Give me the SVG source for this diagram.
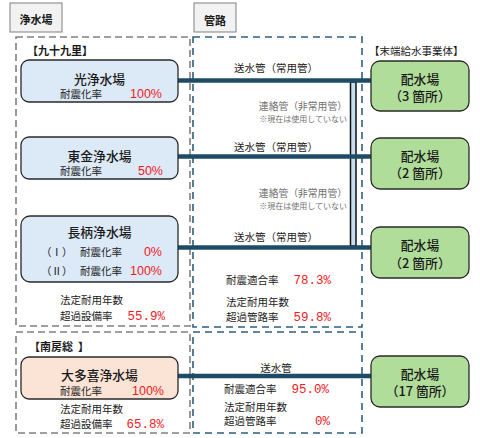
<svg xmlns="http://www.w3.org/2000/svg" width="480" height="438" viewBox="0 0 480 438">
<style>
.t{font-family:"Noto Sans CJK JP","Noto Sans",sans-serif;fill:#1a1a1a}
.ttl{font-size:12.8px;font-weight:500}
.s{font-size:10.5px}
.hd{font-size:11px;font-weight:bold}
.lbl{font-size:10.5px}
.gr{font-family:"Noto Sans CJK JP",sans-serif;fill:#707070;font-size:9.8px}
.gs{font-family:"Noto Sans CJK JP",sans-serif;fill:#707070;font-size:8px}
.r{font-family:"Liberation Sans","Noto Sans CJK JP",sans-serif;fill:#f01a24;font-size:12.5px}
.m{font-family:"Liberation Mono",monospace;fill:#f01a24;font-size:12.5px}
.gdash{fill:none;stroke:#808080;stroke-width:1.6;stroke-dasharray:7 4}
.bdash{fill:none;stroke:#2c6080;stroke-width:1.6;stroke-dasharray:7 5}
.plant{fill:#dce9f7;stroke:#2a2a2a;stroke-width:1.3}
.dist{fill:#b1dd9a;stroke:#2a2a2a;stroke-width:1.3}
.pipe{stroke:#1e4c66;stroke-width:4.5;fill:none}
.hdr{fill:#f2f2f2;stroke:#808080;stroke-width:1}
</style>

<!-- header boxes -->
<g id="hdr-plant"><rect class="hdr" x="10" y="3" width="52" height="29"/><text class="t hd" x="36" y="24" text-anchor="middle">浄水場</text></g>
<g id="hdr-pipe"><rect class="hdr" x="194" y="3" width="42" height="29"/><text class="t hd" x="215" y="25" text-anchor="middle">管路</text></g>

<!-- dashed region boxes -->
<g id="regions">
<rect class="gdash" x="16" y="37" width="174" height="289"/>
<rect class="bdash" x="193" y="37" width="169" height="290"/>
<rect class="gdash" x="16" y="332" width="174" height="101"/>
<rect class="bdash" x="193" y="332" width="169" height="101"/>
</g>

<text class="t hd" x="27" y="55">【九十九里】</text>
<text class="t hd" x="29" y="351" xml:space="preserve">【南房総  】</text>
<text class="t lbl" x="369" y="55">【末端給水事業体】</text>

<!-- connectors -->
<g id="connectors">
<rect x="350.5" y="82" width="5.5" height="164" fill="#c5dff0" stroke="#111" stroke-width="1.5"/>
<line class="pipe" x1="178" y1="80.5" x2="372" y2="80.5"/>
<line class="pipe" x1="178" y1="156.5" x2="372" y2="156.5"/>
<line class="pipe" x1="178" y1="247.5" x2="372" y2="247.5"/>
<line class="pipe" x1="178" y1="376" x2="372" y2="376"/>
<text class="t lbl" x="276" y="72" text-anchor="middle">送水管（常用管）</text>
<text class="gr" x="347" y="110" text-anchor="end">連絡管（非常用管）</text>
<text class="gs" x="347" y="122" text-anchor="end">※現在は使用していない</text>
<text class="t lbl" x="276" y="151" text-anchor="middle">送水管（常用管）</text>
<text class="gr" x="347" y="197" text-anchor="end">連絡管（非常用管）</text>
<text class="gs" x="347" y="209" text-anchor="end">※現在は使用していない</text>
<text class="t lbl" x="276" y="241" text-anchor="middle">送水管（常用管）</text>
<text class="t lbl" x="276" y="372" text-anchor="middle">送水管</text>
</g>

<!-- pipe stats -->
<g id="pipe-stats-1">
<text class="t s" x="226" y="284">耐震適合率</text><text class="m" x="331" y="284" text-anchor="end">78.3%</text>
<text class="t s" x="226" y="306">法定耐用年数</text>
<text class="t s" x="226" y="321">超過管路率</text><text class="m" x="331" y="321" text-anchor="end">59.8%</text>
</g>
<g id="pipe-stats-2">
<text class="t s" x="224" y="393">耐震適合率</text><text class="m" x="329" y="393" text-anchor="end">95.0%</text>
<text class="t s" x="224" y="411">法定耐用年数</text>
<text class="t s" x="224" y="425">超過管路率</text><text class="m" x="330" y="425" text-anchor="end">0%</text>
</g>

<!-- plants -->
<g id="hikari">
<rect class="plant" x="21" y="60" width="157" height="42" rx="8"/>
<text class="t ttl" x="99.5" y="84" text-anchor="middle">光浄水場</text>
<text class="t s" x="60" y="98">耐震化率</text><text class="r" x="162" y="98" text-anchor="end">100%</text>
</g>
<g id="togane">
<rect class="plant" x="21" y="137" width="157" height="42" rx="8"/>
<text class="t ttl" x="99.5" y="161" text-anchor="middle">東金浄水場</text>
<text class="t s" x="60" y="175">耐震化率</text><text class="r" x="163" y="175" text-anchor="end">50%</text>
</g>
<g id="nagara">
<rect class="plant" x="21" y="216" width="157" height="66" rx="9"/>
<text class="t ttl" x="99.5" y="237" text-anchor="middle">長柄浄水場</text>
<text class="t s" x="41" y="256">（Ⅰ）</text><text class="t s" x="80" y="256">耐震化率</text><text class="r" x="162" y="256" text-anchor="end">0%</text>
<text class="t s" x="41" y="275">（Ⅱ）</text><text class="t s" x="80" y="275">耐震化率</text><text class="r" x="162" y="275" text-anchor="end">100%</text>
</g>
<g id="kujukuri-stats">
<text class="t s" x="60" y="304">法定耐用年数</text>
<text class="t s" x="60" y="320">超過設備率</text><text class="m" x="165" y="320" text-anchor="end">55.9%</text>
</g>
<g id="otaki">
<rect x="21" y="357" width="157" height="42" rx="8" fill="#fbe3d6" stroke="#2a2a2a" stroke-width="1.3"/>
<text class="t ttl" x="99.5" y="380" text-anchor="middle">大多喜浄水場</text>
<text class="t s" x="60" y="395">耐震化率</text><text class="r" x="164" y="395" text-anchor="end">100%</text>
</g>
<g id="minamiboso-stats">
<text class="t s" x="60" y="413">法定耐用年数</text>
<text class="t s" x="60" y="428">超過設備率</text><text class="m" x="164" y="428" text-anchor="end">65.8%</text>
</g>

<!-- distribution -->
<g id="dist1">
<rect class="dist" x="371" y="61" width="98" height="50" rx="9"/>
<text class="t ttl" x="420" y="84" text-anchor="middle">配水場</text>
<text class="t ttl" x="420" y="101" text-anchor="middle">（3 箇所）</text>
</g>
<g id="dist2">
<rect class="dist" x="371" y="138" width="98" height="51" rx="9"/>
<text class="t ttl" x="420" y="161" text-anchor="middle">配水場</text>
<text class="t ttl" x="420" y="178" text-anchor="middle">（2 箇所）</text>
</g>
<g id="dist3">
<rect class="dist" x="371" y="227" width="98" height="51" rx="9"/>
<text class="t ttl" x="420" y="250" text-anchor="middle">配水場</text>
<text class="t ttl" x="420" y="268" text-anchor="middle">（2 箇所）</text>
</g>
<g id="dist4">
<rect class="dist" x="371" y="356" width="98" height="51" rx="9"/>
<text class="t ttl" x="420" y="379" text-anchor="middle">配水場</text>
<text class="t ttl" x="420" y="396" text-anchor="middle">（17 箇所）</text>
</g>
</svg>
